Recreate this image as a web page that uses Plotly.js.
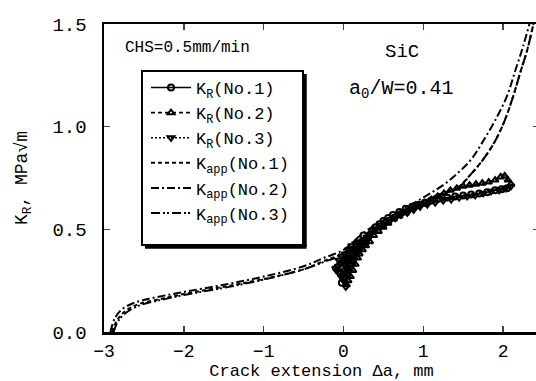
<!DOCTYPE html>
<html><head><meta charset="utf-8">
<script src="https://cdn.plot.ly/plotly-3.0.1.min.js"></script>
<style>html,body{margin:0;padding:0;overflow:hidden;background:#fff;width:536px;height:381px}</style>
</head><body><div id="chart"></div>
<script>
// ---- data ----
const kr1_x = [-0.02,0.0,0.01,-0.04,0.02,0.05,0.03,0.07,0.04,0.09,0.06,0.11,0.14,0.1,0.17,0.2,0.16,0.24,0.28,0.25,0.32,0.36,0.4,0.45,0.5,0.56,0.62,0.7,0.78,0.86,0.94,1.02,1.1,1.2,1.3,1.4,1.5,1.6,1.7,1.8,1.9,1.98,2.05];
const kr1_y = [0.24,0.26,0.28,0.29,0.30,0.31,0.33,0.33,0.35,0.35,0.37,0.37,0.38,0.40,0.40,0.41,0.43,0.43,0.44,0.47,0.47,0.49,0.51,0.525,0.54,0.555,0.57,0.585,0.60,0.61,0.62,0.63,0.64,0.65,0.655,0.66,0.665,0.67,0.675,0.68,0.69,0.695,0.70];

const kr2_x = [0.04,0.06,0.05,0.09,0.07,0.12,0.1,0.15,0.13,0.18,0.2,0.24,0.22,0.28,0.33,0.3,0.38,0.44,0.5,0.56,0.63,0.7,0.78,0.86,0.94,1.02,1.1,1.18,1.26,1.34,1.42,1.5,1.58,1.66,1.74,1.82,1.9,1.97,2.02,2.06,2.1];
const kr2_y = [0.23,0.25,0.28,0.27,0.30,0.30,0.33,0.33,0.36,0.36,0.38,0.40,0.42,0.42,0.44,0.46,0.47,0.49,0.51,0.53,0.55,0.565,0.58,0.60,0.615,0.63,0.645,0.66,0.675,0.69,0.70,0.71,0.715,0.72,0.725,0.73,0.74,0.755,0.76,0.74,0.72];

const kr3_x = [0.03,0.02,0.0,-0.03,-0.06,-0.09,-0.07,-0.1,-0.04,-0.06,0.0,-0.02,0.04,0.02,0.08,0.06,0.12,0.1,0.16,0.2,0.18,0.25,0.3,0.35,0.4,0.46,0.52,0.58,0.65,0.72,0.8,0.88,0.96,1.05,1.15,1.25,1.35,1.45,1.55,1.65,1.75,1.85,1.95,2.03,2.1];
const kr3_y = [0.22,0.24,0.26,0.27,0.29,0.30,0.32,0.31,0.33,0.35,0.34,0.37,0.35,0.38,0.36,0.40,0.38,0.42,0.40,0.41,0.44,0.44,0.46,0.48,0.50,0.51,0.525,0.54,0.555,0.57,0.58,0.595,0.61,0.62,0.63,0.64,0.645,0.655,0.66,0.665,0.675,0.685,0.69,0.70,0.71];

const kapp1_x = [-2.9,-2.84,-2.74,-2.57,-2.3,-2.0,-1.5,-1.0,-0.5,-0.25,0.0,0.15,0.35,0.6,0.8,1.0,1.2,1.42,1.6,1.74,1.9,2.02,2.12,2.22,2.3,2.38];
const kapp1_y = [0.0,0.055,0.10,0.135,0.16,0.185,0.22,0.258,0.305,0.345,0.385,0.435,0.49,0.55,0.595,0.635,0.67,0.70,0.77,0.835,0.93,1.03,1.14,1.27,1.37,1.5];

const kapp2_x = [-2.92,-2.86,-2.76,-2.6,-2.4,-2.0,-1.5,-1.0,-0.5,-0.25,0.0,0.15,0.35,0.6,0.8,1.0,1.15,1.3,1.45,1.6,1.75,1.9,2.05,2.15,2.25,2.33];
const kapp2_y = [0.0,0.07,0.115,0.145,0.165,0.195,0.23,0.27,0.32,0.36,0.40,0.45,0.51,0.565,0.61,0.655,0.69,0.73,0.78,0.84,0.93,1.03,1.15,1.27,1.39,1.5];

const kapp3_x = [-2.88,-2.82,-2.72,-2.55,-2.3,-2.0,-1.5,-1.0,-0.5,-0.25,0.0,0.15,0.35,0.6,0.8,1.0,1.2,1.43,1.6,1.74,1.9,2.02,2.12,2.22,2.3,2.38];
const kapp3_y = [0.0,0.055,0.095,0.13,0.155,0.18,0.215,0.255,0.305,0.34,0.38,0.43,0.49,0.55,0.595,0.635,0.67,0.70,0.77,0.835,0.93,1.03,1.14,1.27,1.37,1.5];

const names = ["K<sub>R</sub>(No.1)","K<sub>R</sub>(No.2)","K<sub>R</sub>(No.3)",
               "K<sub>app</sub>(No.1)","K<sub>app</sub>(No.2)","K<sub>app</sub>(No.3)"];
const xTicks = [-3,-2,-1,0,1,2];
const yTicks = [0,0.5,1.0,1.5];
const yTickText = ["0.0","0.5","1.0","1.5"];

// ---- layout geometry ----
const W = 542, H = 381, L = 104, T = 24, B = 49, R = 3;
const pw = W - L - R, ph = H - T - B;
const px2x = p => (p - L) / pw;
const py2y = p => (H - B - p) / ph;
const FONT = "Liberation Mono, Courier New, monospace";

function krTrace(x, y, name, dash, sym) {
  return {x, y, name, type: "scatter", mode: "lines+markers",
    line: {color: "#000", width: 1.6, dash},
    marker: {symbol: sym, size: 6, color: "#000", line: {color: "#000", width: 2}}};
}
function appTrace(x, y, name, dash) {
  return {x, y, name, type: "scatter", mode: "lines", line: {color: "#000", width: 2, dash, shape: "spline"}};
}

const data = [
  krTrace(kr1_x, kr1_y, names[0], "solid", "circle-open"),
  krTrace(kr2_x, kr2_y, names[1], "4px,3px", "triangle-up-open"),
  krTrace(kr3_x, kr3_y, names[2], "2px,2px", "triangle-down-open"),
  appTrace(kapp1_x, kapp1_y, names[3], "4px,3px"),
  appTrace(kapp2_x, kapp2_y, names[4], "8px,3px,2px,3px"),
  appTrace(kapp3_x, kapp3_y, names[5], "9px,3px,2px,2px,2px,3px")
];

const box = {x0: px2x(142), x1: px2x(303), y0: py2y(245), y1: py2y(71)};
const layout = {
  width: W, height: H,
  margin: {l: L, r: R, t: T, b: B, pad: 0},
  paper_bgcolor: "#fff", plot_bgcolor: "#fff",
  font: {family: FONT, color: "#000", size: 17},
  showlegend: true,
  legend: {x: px2x(146), y: py2y(70), xanchor: "left", yanchor: "top",
    bgcolor: "rgba(0,0,0,0)", borderwidth: 0, font: {family: FONT, size: 17, color: "#000"},
    itemwidth: 40, tracegroupgap: 0},
  xaxis: {range: [-3, 2.45], tickvals: xTicks, ticks: "inside", ticklen: 6, tickwidth: 1.5,
    showline: true, linewidth: 2.5, linecolor: "#000", mirror: "ticks", showgrid: false, zeroline: false,
    tickfont: {family: FONT, size: 18}, ticklabelstandoff: 1,
    title: {text: "Crack extension \u0394a, mm", font: {family: FONT, size: 17}, standoff: 13}},
  yaxis: {range: [0, 1.5], tickvals: yTicks, ticktext: yTickText, ticks: "inside", ticklen: 6, tickwidth: 1.5,
    showline: true, linewidth: 2.5, linecolor: "#000", mirror: "ticks", showgrid: false, zeroline: false,
    tickfont: {family: FONT, size: 19}, ticklabelstandoff: 11,
    title: {text: "K<sub>R</sub>, MPa\u221Am", font: {family: FONT, size: 18}, standoff: 20}},
  shapes: [
    {type: "rect", xref: "paper", yref: "paper", x0: box.x0, x1: box.x1, y0: box.y0, y1: box.y1,
      line: {color: "#000", width: 2}, fillcolor: "#fff", layer: "above"},
    {type: "line", xref: "paper", yref: "paper", x0: px2x(305), x1: px2x(305), y0: py2y(247), y1: py2y(74),
      line: {color: "#000", width: 3.5}, layer: "above"},
    {type: "line", xref: "paper", yref: "paper", x0: px2x(145), x1: px2x(306.5), y0: py2y(247), y1: py2y(247),
      line: {color: "#000", width: 3.5}, layer: "above"}
  ],
  annotations: [
    {text: "CHS=0.5mm/min", xref: "paper", yref: "paper", x: px2x(187), y: py2y(48), xanchor: "center", yanchor: "middle",
      showarrow: false, font: {family: FONT, size: 16}},
    {text: "SiC", xref: "paper", yref: "paper", x: px2x(402), y: py2y(52), xanchor: "center", yanchor: "middle",
      showarrow: false, font: {family: FONT, size: 19}},
    {text: "a<sub>0</sub>/W=0.41", xref: "paper", yref: "paper", x: px2x(401), y: py2y(89), xanchor: "center", yanchor: "middle",
      showarrow: false, font: {family: FONT, size: 20}}
  ]
};
Plotly.newPlot("chart", data, layout, {staticPlot: true, displayModeBar: false});
</script></body></html>
